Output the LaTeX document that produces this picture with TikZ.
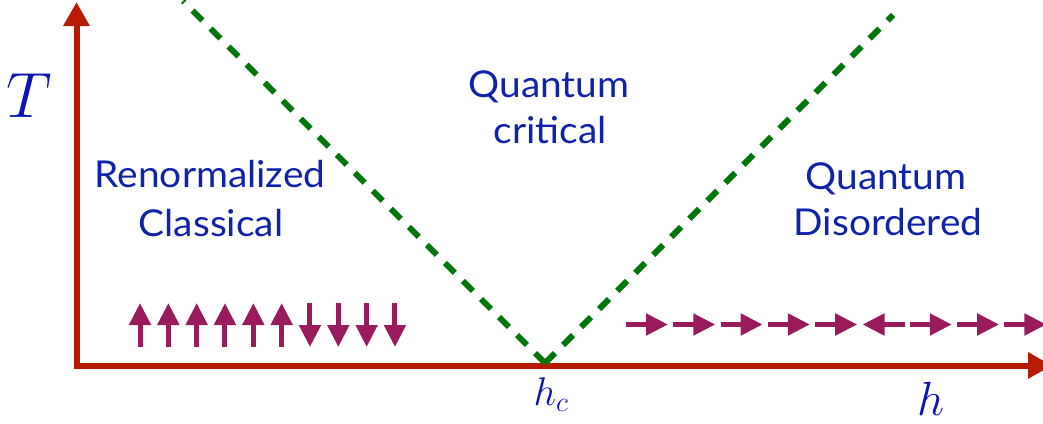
\RequirePackage{fix-cm}
\documentclass[tikz,border=0pt]{standalone}
\usepackage{fontspec}
\setmainfont{Lato}
\newfontfamily\labfont[FakeStretch=1.05]{Lato}
\usetikzlibrary{arrows.meta}
\definecolor{axisred}{RGB}{183,26,5}
\definecolor{critgreen}{RGB}{0,118,10}
\definecolor{spinpurple}{RGB}{154,26,94}
\definecolor{txtblue}{RGB}{16,34,170}
\definecolor{mathblue}{RGB}{10,20,185}
\tikzset{
  axis/.style={draw=axisred, line width=6pt, line join=miter,
    {Triangle[length=24pt,width=25pt]}-{Triangle[length=24pt,width=25pt]}},
  critline/.style={draw=critgreen, line width=6pt, dash pattern=on 14pt off 11.5pt},
  spin/.style={draw=spinpurple, line width=5pt, -{Triangle[length=22pt,width=21pt]}},
  regionlabel/.style={text=txtblue, font=\labfont\fontsize{37}{44}\selectfont, anchor=base, inner sep=0pt},
  mathlabel/.style={text=mathblue, inner sep=0pt}
}
\begin{document}
\begin{tikzpicture}[x=1pt,y=-1pt]
\useasboundingbox (0,0) rectangle (1043,423);
% axes
\coordinate (origin) at (76.5,365.5);
\coordinate (tend) at (76.5,2);
\coordinate (hend) at (1052,365.5);
\draw[axis] (hend) -- (origin) -- (tend);
% crossover lines
\coordinate (vtx) at (545,363);
\coordinate (lend) at (183,1);
\coordinate (rend) at (893,15);
\draw[critline] (vtx) -- (lend);
\draw[critline] (vtx) -- (rend);
% spins, left
\foreach \i in {0,...,5} \draw[spin] ({140+28.33*\i},347) -- ({140+28.33*\i},303);
\foreach \i in {6,...,9} \draw[spin] ({140+28.33*\i},303) -- ({140+28.33*\i},347);
% spins, right
\foreach \i in {0,1,2,3,4,6,7,8} \draw[spin] ({626+47.3*\i},324.5) -- ({668+47.3*\i},324.5);
\draw[spin] ({668+47.3*5},324.5) -- ({626+47.3*5},324.5);
% labels
\node[regionlabel] (rc1) at (210,187) {Renormalized};
\node[regionlabel] (rc2) at (211,236) {Classical};
\node[regionlabel] (qc1) at (549,97) {Quantum};
\node[regionlabel] (qc2) at (550,143) {critical};
\node[regionlabel] (qd1) at (886,189) {Quantum};
\node[regionlabel] (qd2) at (888,235) {Disordered};
\node[mathlabel, anchor=base] (tlab) at (29,117) {\fontsize{64}{70}\selectfont$T$};
\node[mathlabel, anchor=base] (hlab) at (931,415) {\fontsize{48}{54}\selectfont$h$};
\node[mathlabel, anchor=base] (hclab) at (551,405) {\fontsize{40}{46}\selectfont$h_c$};
\end{tikzpicture}
\end{document}
